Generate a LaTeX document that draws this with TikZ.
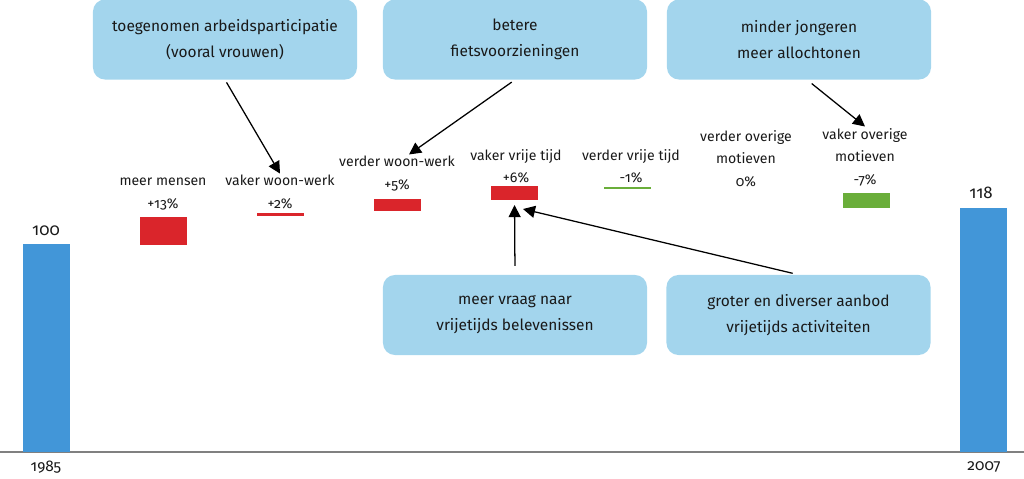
\documentclass[tikz,border=0pt]{standalone}
\usepackage{fontspec}
\setmainfont{Fira Sans}[Numbers=OldStyle]
\usepackage{xcolor}
\usepackage{tikz}
\usetikzlibrary{arrows.meta, positioning}
\definecolor{causeblue}{RGB}{163, 213, 237}
\definecolor{totalblue}{RGB}{66, 150, 216}
\definecolor{upred}{RGB}{218, 37, 43}
\definecolor{downgreen}{RGB}{106, 174, 58}
\definecolor{axisgray}{RGB}{128, 128, 128}

\begin{document}
\begin{tikzpicture}[
  x=0.025cm, y=-0.025cm,
  cause/.style={fill=causeblue, rounded corners=0.3cm, minimum width=6.6cm, minimum height=2cm, align=center, font=\fontsize{11}{18.5}\selectfont, text=black!90},
  lab/.style={align=center, font=\fontsize{10}{16}\selectfont, inner sep=1pt, text=black!90},
  incr/.style={fill=upred, inner sep=0pt, minimum width=1.175cm},
  decr/.style={fill=downgreen, inner sep=0pt, minimum width=1.175cm},
  total/.style={fill=totalblue},
  effect/.style={-{Triangle[length=0.3cm, width=0.3cm]}, line width=0.9pt},
]
  \useasboundingbox (0,0) rectangle (1024,479);

  % Base line
  \draw[axisgray, line width=1.4pt] (0,452) -- (1024,452);

  % Totals 1985 and 2007
  \fill[total] (23,244) rectangle (70,452);
  \fill[total] (960,208) rectangle (1007,452);
  \node[lab, font=\fontsize{12}{14}\selectfont] (base) at (46,231) {100};
  \node[lab, font=\fontsize{12}{14}\selectfont] (final) at (981,193) {118};
  \node[lab, font=\fontsize{11}{13}\selectfont] (y1985) at (46,467) {1985};
  \node[lab, font=\fontsize{11}{13}\selectfont] (y2007) at (984,467) {2007};

  % Contributions (bars scaled: 2.08 px per %)
  \node[incr, minimum height=0.7cm] (popbar) at (163.5,231) {};
  \node[lab] (pop) at (163,194) {meer mensen\\+13\%};

  \node[incr, minimum height=0.075cm] (wwfreqbar) at (280.5,214.5) {};
  \node[lab] (wwfreq) at (280,192) {vaker woon-werk\\+2\%};

  \node[incr, minimum height=0.3cm] (wwdistbar) at (397.5,205) {};
  \node[lab] (wwdist) at (397,173.5) {verder woon-werk\\+5\%};

  \node[incr, minimum height=0.35cm] (ltfreqbar) at (514.5,193) {};
  \node[lab] (ltfreq) at (516,166) {vaker vrije tijd\\+6\%};

  \node[decr, minimum height=0.05cm] (ltdistbar) at (627.5,188) {};
  \node[lab] (ltdist) at (631,166) {verder vrije tijd\\-1\%};

  \node[lab] (ordist) at (746,158.5) {verder overige\\motieven\\0\%};

  \node[decr, minimum height=0.375cm] (orfreqbar) at (866.5,200.5) {};
  \node[lab] (orfreq) at (865,157) {vaker overige\\motieven\\-7\%};

  % Causes
  \node[cause] (work) at (225,39.5) {toegenomen arbeidsparticipatie\\(vooral vrouwen)};
  \node[cause] (bike) at (515,39.5) {betere\\fietsvoorzieningen};
  \node[cause] (demo) at (799,39.5) {minder jongeren\\meer allochtonen};
  \node[cause] (demand) at (515,315) {meer vraag naar\\vrijetijds belevenissen};
  \node[cause] (supply) at (798.5,315) {groter en diverser aanbod\\vrijetijds activiteiten};

  % Effects
  \coordinate (ltfreqin) at (523,209);
  \draw[effect, shorten <=0.075cm] (work.south) -- (wwfreq.north);
  \draw[effect, shorten <=0.1cm] (bike.south) -- ([xshift=0.3cm]wwdist.north);
  \draw[effect, shorten <=0.15cm] ([xshift=0.2cm]demo.south) -- (orfreq.north);
  \draw[effect, shorten <=0.22cm, shorten >=0.12cm] (demand.north) -- (ltfreqbar.south);
  \draw[effect, shorten <=0.15cm] (supply.north) -- (ltfreqin);

\end{tikzpicture}
\end{document}
